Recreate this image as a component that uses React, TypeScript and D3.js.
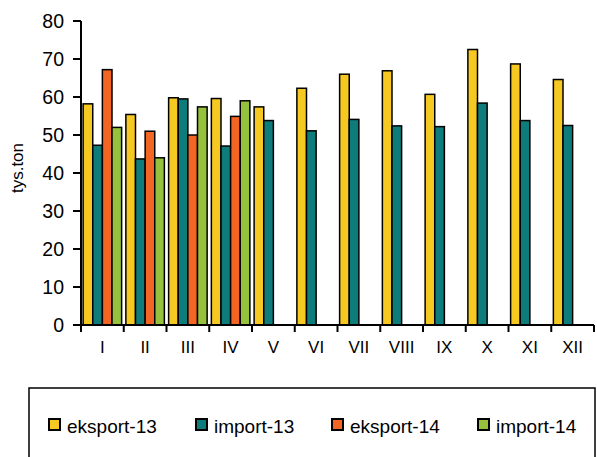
import React from "react";
import * as d3 from "d3";

const months = ["I", "II", "III", "IV", "V", "VI", "VII", "VIII", "IX", "X", "XI", "XII"];
const seriesNames = ["eksport-13", "import-13", "eksport-14", "import-14"];
const seriesColors = ["#F5C822", "#0E7C7B", "#F26522", "#95C13D"];
const eksport13 = [58.2, 55.4, 59.8, 59.6, 57.4, 62.3, 66.0, 66.9, 60.7, 72.5, 68.7, 64.6];
const import13 = [47.3, 43.7, 59.5, 47.1, 53.8, 51.1, 54.1, 52.4, 52.2, 58.4, 53.8, 52.5];
const eksport14: (number | null)[] = [67.2, 51.0, 50.0, 54.9, null, null, null, null, null, null, null, null];
const import14: (number | null)[] = [52.0, 44.0, 57.4, 59.0, null, null, null, null, null, null, null, null];
const yTicks = [0, 10, 20, 30, 40, 50, 60, 70, 80];

export default function App() {
  const W = 597, H = 457;
  const x0 = 81, x1 = 594, yTop = 21, yBot = 325;
  const x = d3.scaleBand<string>().domain(months).range([x0, x1]).paddingInner(0).paddingOuter(0);
  const y = d3.scaleLinear().domain([0, 80]).range([yBot, yTop]);
  const inner = d3.scaleBand<number>().domain([0, 1, 2, 3]).range([0, x.bandwidth()]).paddingInner(0).paddingOuter(0.22);
  const data = [eksport13, import13, eksport14, import14];
  const font = "Arial, 'Liberation Sans', sans-serif";
  const legendSw = [49, 196, 332, 478];

  return (
    <svg width={W} height={H} style={{ position: "absolute", left: 0, top: 0, background: "#fff" }}>
      {data.map((vals, si) =>
        vals.map((v, i) =>
          v == null ? null : (
            <rect
              key={`${si}-${i}`}
              x={(x(months[i]) as number) + (inner(si) as number)}
              y={y(v)}
              width={inner.bandwidth()}
              height={y(0) - y(v)}
              fill={seriesColors[si]}
              stroke="#000"
              strokeWidth={1.5}
            />
          )
        )
      )}
      <line x1={x0} x2={x0} y1={yTop} y2={yBot} stroke="#000" strokeWidth={2} />
      <line x1={x0} x2={x1} y1={yBot} y2={yBot} stroke="#000" strokeWidth={2} />
      {yTicks.map((t) => (
        <g key={t}>
          <line x1={73} x2={x0} y1={y(t)} y2={y(t)} stroke="#000" strokeWidth={2} />
          <text x={64} y={y(t)} dy="0.35em" textAnchor="end" fontFamily={font} fontSize={19.5} fill="#000">{t}</text>
        </g>
      ))}
      {months.map((m, i) => (
        <g key={m}>
          <line x1={x(m) as number} x2={x(m) as number} y1={yBot} y2={332} stroke="#000" strokeWidth={2} />
          <text x={(x(m) as number) + x.bandwidth() / 2} y={353} textAnchor="middle" fontFamily={font} fontSize={17} fill="#000">{m}</text>
        </g>
      ))}
      <line x1={x1} x2={x1} y1={yBot} y2={332} stroke="#000" strokeWidth={2} />
      <text transform={`translate(23,168) rotate(-90)`} textAnchor="middle" fontFamily={font} fontSize={17} fill="#000">tys.ton</text>
      <rect x={29} y={388} width={566} height={80} fill="none" stroke="#000" strokeWidth={1.5} />
      {seriesNames.map((n, i) => (
        <g key={n}>
          <rect x={legendSw[i]} y={419} width={11} height={11} fill={seriesColors[i]} stroke="#000" strokeWidth={2} />
          <text x={legendSw[i] + 18} y={433} fontFamily={font} fontSize={19} fill="#000">{n}</text>
        </g>
      ))}
    </svg>
  );
}
